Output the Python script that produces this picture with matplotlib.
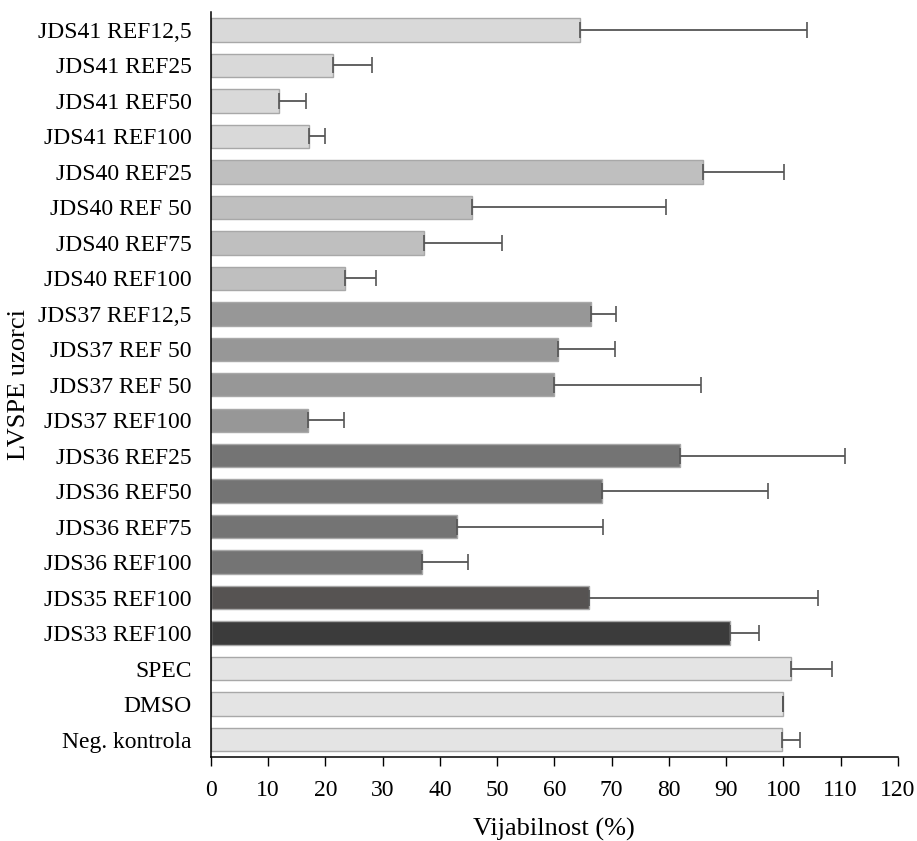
import numpy as np
import matplotlib
matplotlib.use("Agg")
import matplotlib.pyplot as plt

plt.rcParams['font.family'] = ['Liberation Serif', 'DejaVu Serif']

# top to bottom, as in the figure
samples = [
    "JDS41 REF12,5", "JDS41 REF25", "JDS41 REF50", "JDS41 REF100",
    "JDS40 REF25", "JDS40 REF 50", "JDS40 REF75", "JDS40 REF100",
    "JDS37 REF12,5", "JDS37 REF 50", "JDS37 REF 50", "JDS37 REF100",
    "JDS36 REF25", "JDS36 REF50", "JDS36 REF75", "JDS36 REF100",
    "JDS35 REF100", "JDS33 REF100",
    "SPEC", "DMSO", "Neg. kontrola",
]
viability = [64.5, 21.3, 11.9, 17.1,
             86.0, 45.6, 37.2, 23.4,
             66.4, 60.7, 60.0, 16.9,
             82.0, 68.4, 43.0, 36.9,
             66.0, 90.7,
             101.3, 100.0, 99.8]
sd = [39.6, 6.9, 4.7, 2.9,
      14.2, 33.9, 13.7, 5.5,
      4.4, 9.9, 25.7, 6.3,
      28.8, 29.0, 25.5, 8.0,
      40.1, 5.0,
      7.3, 0.0, 3.1]
groups = ["JDS41"] * 4 + ["JDS40"] * 4 + ["JDS37"] * 4 + ["JDS36"] * 4 + \
         ["JDS35", "JDS33"] + ["ctrl"] * 3

group_colors = {
    "JDS41": "#d9d9d9",
    "JDS40": "#bfbfbf",
    "JDS37": "#979797",
    "JDS36": "#747474",
    "JDS35": "#565352",
    "JDS33": "#3b3b3b",
    "ctrl": "#e4e4e4",
}

fig = plt.figure(figsize=(9.17, 8.41), dpi=100)
ax = fig.add_axes([0.230, 0.0995, 0.749, 0.886])

pos = np.arange(len(samples))
colors = [group_colors[g] for g in groups]
ax.barh(pos, viability, height=0.66, color=colors, edgecolor="#a8a8a8", linewidth=1.0)
ax.errorbar(viability, pos, xerr=[np.zeros(len(sd)), sd], fmt="none",
            ecolor="#555555", elinewidth=1.3, capsize=6, capthick=1.2)

ax.set_ylim(len(samples) - 0.5, -0.5)
ax.set_xlim(0, 120)
ax.set_xticks(np.arange(0, 121, 10))
ax.set_yticks(pos)
ax.set_yticklabels(samples)

ax.tick_params(axis="y", length=0, pad=14, labelsize=17)
ax.tick_params(axis="x", length=6.5, width=1, pad=10, labelsize=17)
ax.spines["top"].set_visible(False)
ax.spines["right"].set_visible(False)
ax.spines["left"].set_linewidth(1.1)
ax.spines["bottom"].set_linewidth(1.1)

ax.set_xlabel("Vijabilnost (%)", fontsize=19, labelpad=12)
ax.set_ylabel("LVSPE uzorci", fontsize=19, labelpad=6)

fig.savefig("out.png", dpi=100)
